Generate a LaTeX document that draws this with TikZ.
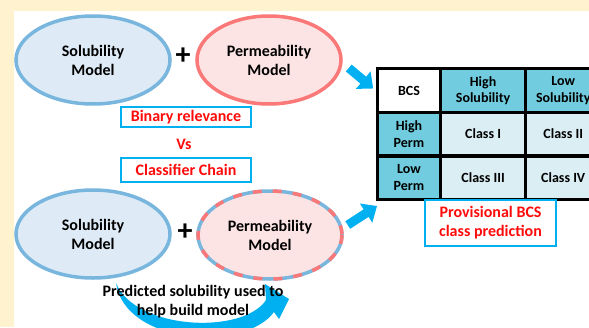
\documentclass[tikz,border=0pt]{standalone}
\usepackage{fontspec}
\setmainfont{Carlito}
\usepackage{tikz}
\usetikzlibrary{positioning,calc}
\usetikzlibrary{arrows.meta,shapes.geometric}
\definecolor{Cream}{RGB}{255,242,206}
\definecolor{SolBlue}{RGB}{120,182,222}
\definecolor{SolFill}{RGB}{222,235,247}
\definecolor{PermRed}{RGB}{250,120,120}
\definecolor{PermFill}{RGB}{253,228,228}
\definecolor{BrightCyan}{RGB}{0,176,240}
\definecolor{HeadTeal}{RGB}{112,204,222}
\definecolor{CellPale}{RGB}{218,238,244}
\definecolor{LabelRed}{RGB}{255,10,10}
\tikzset{
	model/.style={ellipse,line width=3.5pt,inner sep=0pt,minimum width=154pt,minimum height=88pt,
		align=center,font=\fontsize{16}{19}\selectfont\bfseries},
	solmodel/.style={model,draw=SolBlue,fill=SolFill},
	permmodel/.style={model,draw=PermRed,fill=PermFill},
	plus/.style={font=\fontsize{30}{30}\selectfont\bfseries,inner sep=0pt},
	redbox/.style={draw=BrightCyan,line width=2pt,fill=white,text=LabelRed,align=center,
		font=\fontsize{16}{19}\selectfont\bfseries,inner sep=2pt},
	cell/.style={draw=black,line width=1.6pt,minimum height=42pt,inner sep=0pt,align=center,
		font=\fontsize{14}{16.5}\selectfont\bfseries},
	blockarrow/.style={BrightCyan,line width=9pt,-{Triangle[length=13pt,width=22pt]}},
}
\begin{document}
\begin{tikzpicture}[x=1pt,y=-1pt]
	\useasboundingbox (0,0) rectangle (589,327);
	\clip (0,0) rectangle (589,327);
	\fill[white] (0,0) rectangle (589,327);
	\fill[Cream] (0,0) rectangle (589,11);
	\fill[Cream] (0,0) rectangle (14,327);

	% binary relevance models
	\node[solmodel] (sol1) at (93,60) {Solubility\\Model};
	\node[permmodel,minimum width=144pt] (perm1) at (269,60) {Permeability\\Model};
	\node[plus] (plus1) at (183,56) {+};

	\node[redbox,minimum width=130pt,minimum height=20pt] (br) at (186,117) {Binary relevance};
	\node[text=LabelRed,font=\fontsize{16}{19}\selectfont\bfseries] (vs) at (184,144) {Vs};
	\node[redbox,minimum width=130pt,minimum height=24pt] (cc) at (186,170) {Classifier Chain};

	% classifier chain models
	\node[solmodel] (sol2) at (93,234) {Solubility\\Model};
	\node[permmodel,draw=SolBlue,minimum width=144pt] (perm2) at (270,235) {Permeability\\Model};
	\draw[PermRed,line width=3.5pt,dash pattern=on 9pt off 11pt] (perm2.center) ellipse (72 and 44);
	\node[plus] (plus2) at (185,232) {+};

	% BCS table
	\node[cell,fill=white,minimum width=62pt] (bcs) at (409,90.5) {BCS};
	\node[cell,fill=HeadTeal,minimum width=83pt,right=0pt of bcs] (hisol) {High\\Solubility};
	\node[cell,fill=HeadTeal,minimum width=74pt,right=0pt of hisol] (losol) {Low\\Solubility};
	\node[cell,fill=HeadTeal,minimum width=62pt,below=0pt of bcs] (hiperm) {High\\Perm};
	\node[cell,fill=CellPale,minimum width=83pt,right=0pt of hiperm] (c1) {Class I};
	\node[cell,fill=CellPale,minimum width=74pt,right=0pt of c1] (c2) {Class II};
	\node[cell,fill=HeadTeal,minimum width=62pt,below=0pt of hiperm] (loperm) {Low\\Perm};
	\node[cell,fill=CellPale,minimum width=83pt,right=0pt of loperm] (c3) {Class III};
	\node[cell,fill=CellPale,minimum width=74pt,right=0pt of c3] (c4) {Class IV};
	\draw[line width=3pt] (bcs.north west) rectangle (c4.south east);

	\node[redbox,minimum width=131pt,minimum height=46pt] (prov) at (490.5,223)
		{Provisional BCS\\class prediction};

	% arrows into the table
	\coordinate (a1) at ($(perm1.east)+(6,8)$);
	\coordinate (a2) at ($(bcs.west)+(-4,-2)$);
	\draw[blockarrow] (a1) -- (a2);
	\coordinate (b1) at ($(perm2.east)+(4,-10)$);
	\coordinate (b2) at (377,206);
	\draw[blockarrow] (b1) -- (b2);

	% feedback arrow under the chain
	\coordinate (f0) at (116,283);
	\coordinate (f1) at (266,300);
	\fill[BrightCyan] (f0) .. controls (135,330) and (243,335) .. (f1)
		-- (265,284) -- (289,299) -- (279,319) -- (274,312)
		.. controls (245,352) and (125,345) .. (f0) -- cycle;
	\node[align=center,font=\fontsize{16}{19}\selectfont\bfseries] (fb) at (193,302)
		{Predicted solubility used to\\help build model};
\end{tikzpicture}
\end{document}
